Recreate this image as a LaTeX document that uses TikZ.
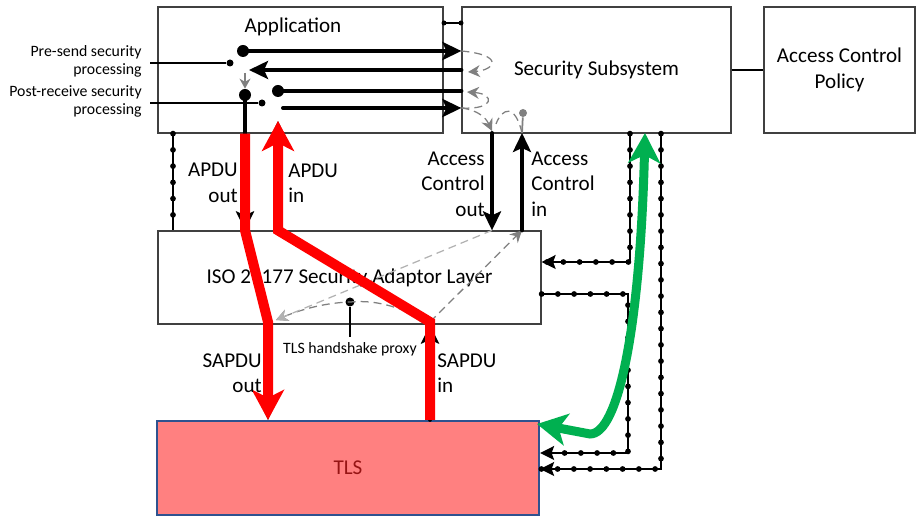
\documentclass[tikz,border=0pt]{standalone}
\usepackage{fontspec}
\setmainfont{Carlito}
\usetikzlibrary{arrows.meta}
\usetikzlibrary{decorations.markings}
\definecolor{tlsfill}{RGB}{255,128,128}
\definecolor{tlsedge}{RGB}{47,82,143}
\definecolor{tlstext}{RGB}{150,20,20}
\definecolor{linkgreen}{RGB}{0,176,80}
\tikzset{
    box/.style = {rectangle, draw=black!75, line width=0.25mm, inner sep=0pt, align=center, font=\fontsize{12}{14.5}\selectfont},
    tlsbox/.style = {box, fill=tlsfill, draw=tlsedge, line width=0.45mm, text=tlstext},
    lbl/.style = {font=\fontsize{12}{14.5}\selectfont, inner sep=0pt},
    note/.style = {font=\fontsize{9}{10.2}\selectfont, align=right, inner sep=0pt},
    dot/.style = {circle, fill=black, inner sep=0pt, minimum size=2.4mm},
    pin/.style = {circle, fill=black, inner sep=0pt, minimum size=1.4mm},
    joint/.style = {circle, fill=black, inner sep=0pt, minimum size=1mm},
    bead/.style = {circle, fill=black, inner sep=0pt, minimum size=1.15mm},
    gdot/.style = {circle, fill=gray, inner sep=0pt, minimum size=1.6mm},
    wire/.style = {line width=0.25mm},
    flow/.style = {line width=0.8mm, line cap=round, -{Stealth[length=3.8mm,width=3.6mm,inset=0.8mm]}},
    flown/.style = {line width=0.8mm, line cap=round},
    pdu/.style = {red, line width=2mm, -{Stealth[length=6mm,width=6.4mm,inset=1.6mm]}},
    tlslink/.style = {linkgreen, line width=1.8mm, {Stealth[length=6mm,width=6.4mm,inset=1.6mm]}-{Stealth[length=6mm,width=6.4mm,inset=1.6mm]}},
    hint/.style = {gray, line width=0.25mm, dash pattern=on 1.6mm off 1mm, -{Stealth[length=2.4mm,width=2.4mm]}},
    hintn/.style = {gray, line width=0.25mm, dash pattern=on 1.6mm off 1mm},
    hintsolid/.style = {gray, line width=0.4mm, -{Stealth[length=2mm,width=2.2mm]}},
    bus/.style = {line width=0.3mm, postaction={decorate}, decoration={markings, mark=between positions 0 and 1 step 3.25mm with {\node[bead] {};}}},
    busarrow/.style = {bus, -{Stealth[length=2.8mm,width=2.8mm,inset=0.5mm]}},
}

\begin{document}
\begin{tikzpicture}[x=0.2mm, y=-0.2mm]
\useasboundingbox (0,0) rectangle (916,518);
% blocks
\node[box, minimum width=5.7cm, minimum height=2.52cm] (app) at (300.5,70) {};
\node[lbl] (apptitle) at (293,27) {Application};
\node[box, minimum width=5.38cm, minimum height=2.52cm] (sec) at (596.5,70) {Security Subsystem};
\node[box, minimum width=3.02cm, minimum height=2.52cm] (acp) at (839.5,70) {Access Control\\Policy};
\node[box, minimum width=7.66cm, minimum height=1.86cm] (sal) at (349.5,277.5) {ISO 21177 Security Adaptor Layer};
\node[tlsbox, minimum width=7.64cm, minimum height=1.88cm] (tls) at (348,468) {TLS};
%
\draw[wire] (sec.east) -- (acp.west);
\node[joint] (j1) at (444,23) {};
\node[joint] (j2) at (461,23) {};
\draw[wire] (app.east |- j1) -- (sec.west |- j2);

% processing points in the application
\node[dot] (ps) at (243,51) {};
\node[dot] (pr) at (245,95) {};
\node[dot] (rs) at (278,91) {};
\node[pin] (psd) at (230,63) {};
\node[pin] (prd) at (262,103) {};
\coordinate (rt) at (249,70);
\coordinate (rx) at (283,108);
\coordinate (rtdrop) at (245,73);
\coordinate (apin) at (278,121);
\node[note, anchor=east] (presend) at (142,61) {Pre-send security\\processing};
\node[note, anchor=east] (postrecv) at (142,101) {Post-receive security\\processing};
\coordinate (psfree) at (150,63);
\coordinate (prfree) at (150,103);
\draw[wire] (psfree) -- (psd);
\draw[wire] (prfree) -- (prd);

% dotted buses
\coordinate (bx1) at (173,0);
\coordinate (bx2) at (630,0);
\coordinate (bx3) at (628,0);
\coordinate (bx4) at (661,0);
\coordinate (by1) at (0,262);
\coordinate (by2) at (0,294);
\coordinate (by3) at (0,453);
\coordinate (by4) at (0,469);
\draw[bus] (app.south -| bx1) -- (sal.north -| bx1);
\draw[busarrow] (sec.south -| bx2) -- (bx2 |- by1) -- (sal.east |- by1);
\draw[busarrow] (sal.east |- by2) -- (bx3 |- by2) -- (bx3 |- by3) -- (tls.east |- by3);
\draw[busarrow] (sec.south -| bx4) -- (bx4 |- by4) -- (tls.east |- by4);

% gray hand-over hints
\coordinate (h1) at (468,72);
\coordinate (h2) at (467,92);
\coordinate (h3) at (492,131);
\coordinate (aco) at (492,133);
\coordinate (aci) at (522,133);
\coordinate (sp_out) at (268,322);
\coordinate (sp_in) at (430,322);
\coordinate (hs_l) at (276,320);
\draw[hint] (sec.west |- ps) .. controls (505,55) and (495,70) .. (h1);
\draw[hint] (sec.west |- rx) .. controls (495,110) and (495,94) .. (h2);
\draw[hint] (sec.west |- rx) .. controls (478,110) and (486,118) .. (h3);
\node[gdot] (acg) at (523,113) {};
\draw[gray, line width=0.35mm] (acg) -- (aci);
\draw[hintn] (aci) .. controls (515,103) and (502,108) .. (496,124);
\draw[hintsolid] (rtdrop) -- (pr.north);

% TLS handshake proxy
\node[pin, minimum size=1.8mm] (hs) at (350,302) {};
\node[note, align=center, anchor=north] (hslbl) at (350,342) {TLS handshake proxy};
\draw[wire, shorten >=1mm] (hs) -- (hslbl.north);
\draw[hint] (sp_in) .. controls (395,305) and (375,300) .. (hs.center) .. controls (320,303) and (295,312) .. (hs_l);
\draw[hint] (sp_in) -- (aci |- sal.north);
\draw[hint, gray!60] (aco |- sal.north) -- (hs_l);

% application <-> security subsystem
\draw[flow] (ps.center) -- (sec.west |- ps);
\draw[flow] (sec.west |- rt) -- (rt);
\draw[flown] (rs.center) -- (sec.west |- rs);
\draw[flow] (rx) -- (sec.west |- rx);
\draw[flow] (aco) -- (aco |- sal.north);
\draw[flow] (aci |- sal.north) -- (aci);
\draw[flow] (pr.center) -- (pr |- sal.north);
\draw[flow] (sal.north -| rs) -- (apin);
\draw[flow] (sp_out) -- (tls.north -| sp_out);
\draw[flow] (tls.north -| sp_in) -- (sal.south -| sp_in);

% PDU paths
\draw[pdu] (app.south -| pr) -- (pr |- sal.north) -- (sp_out) -- (tls.north -| sp_out);
\draw[pdu] (tls.north -| sp_in) -- (sp_in) -- (sal.north -| rs) -- (apin);
\node[lbl, align=right, anchor=east] (apduout) at (238,183) {APDU\\out};
\node[lbl, align=left, anchor=west] (apduin) at (288,183) {APDU\\in};
\node[lbl, align=right, anchor=east] (acoutl) at (485,184) {Access\\Control\\out};
\node[lbl, align=left, anchor=west] (acinl) at (531,184) {Access\\Control\\in};
\node[lbl, align=right, anchor=east] (sapduout) at (262,373) {SAPDU\\out};
\node[lbl, align=left, anchor=west] (sapduin) at (437,373) {SAPDU\\in};

% security subsystem <-> TLS
\coordinate (gtop) at (645,133);
\coordinate (gbend) at (590,434);
\coordinate (gtip) at (537,424);
\draw[tlslink] (gtop) .. controls (640,330) and (618,434) .. (gbend) -- (gtip);
\end{tikzpicture}
\end{document}
